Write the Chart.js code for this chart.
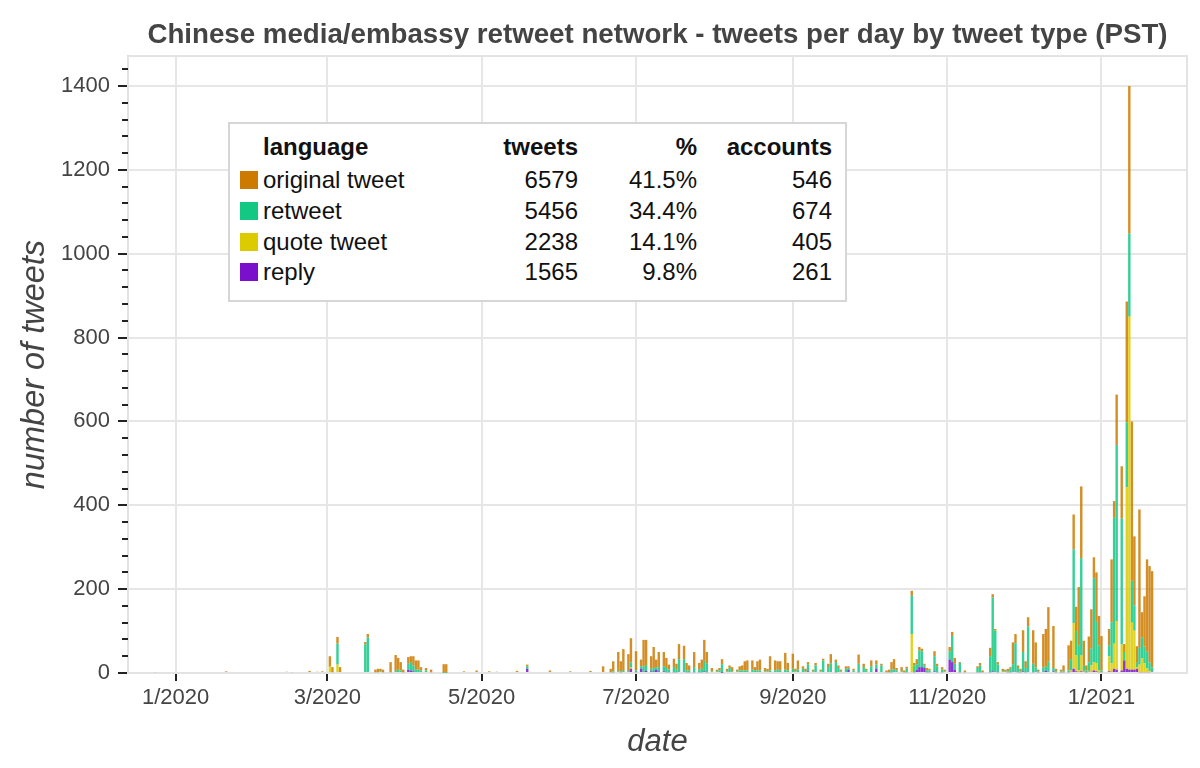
<!DOCTYPE html>
<html>
<head>
<meta charset="utf-8">
<script src="https://cdn.jsdelivr.net/npm/chart.js@4.4.1/dist/chart.umd.min.js"></script>
<style>
    body { margin: 0; background: #fff; }
    #wrap { position: relative; width: 1200px; height: 768px; font-family: "Liberation Sans", Arial, sans-serif; }
    #legend { position: absolute; left: 228px; top: 122px; width: 615px; height: 176px; border: 2px solid #d6d6d6; background: #fff; color: #111; font-size: 24px; }
    #legend div { position: absolute; line-height: 30px; white-space: nowrap; }
    #legend .sw { width: 18px; height: 18px; }
</style>
</head>
<body>
<div id="wrap">
    <canvas id="chart_tweets" width="1200" height="768"></canvas>
    <div id="legend"></div>
</div>
<script>
// dias contados desde 2020-01-01 (dia 0)
const days = [
    -8, 20, 44, 46, 53, 56, 58, 61, 62, 64,
    65, 75, 76, 79, 80, 81, 82, 85, 87, 88,
    89, 90, 92, 93, 94, 95, 96, 97, 99, 101,
    106, 107, 114, 119, 124, 127, 135, 139, 148, 156,
    164, 169, 172, 173, 175, 176, 177, 179, 180, 182,
    184, 185, 186, 188, 189, 190, 191, 193, 194, 195,
    197, 198, 199, 201, 202, 203, 205, 207, 208, 209,
    210, 212, 214, 215, 216, 218, 219, 220, 222, 223,
    224, 225, 226, 228, 229, 230, 231, 233, 234, 235,
    237, 238, 239, 241, 242, 244, 245, 246, 248, 249,
    250, 252, 253, 255, 256, 258, 259, 261, 262, 263,
    265, 266, 268, 270, 272, 273, 275, 277, 279, 281,
    282, 283, 284, 285, 287, 288, 289, 291, 292, 293,
    294, 295, 296, 297, 298, 300, 301, 303, 304, 306,
    307, 308, 310, 312, 317, 318, 319, 322, 323, 324,
    325, 327, 328, 329, 330, 331, 332, 333, 334, 335,
    336, 337, 339, 340, 341, 343, 344, 345, 347, 348,
    350, 351, 353, 354, 355, 356, 357, 358, 359, 360,
    361, 362, 363, 364, 365, 366, 369, 370, 371, 372,
    374, 375, 376, 377, 378, 379, 380, 381, 382, 383,
    384, 385, 386
]
const original = [
    2, 4, 3, 2, 5, 3, 4, 25, 12, 16,
    14, 6, 8, 6, 8, 6, 6, 24, 38, 28,
    20, 6, 16, 14, 22, 22, 22, 8, 6, 6,
    20, 20, 4, 6, 4, 3, 5, 4, 6, 4,
    5, 16, 8, 24, 46, 24, 52, 40, 58, 46,
    16, 64, 60, 30, 50, 18, 36, 34, 24, 12,
    20, 14, 36, 32, 18, 12, 36, 16, 22, 50,
    28, 8, 4, 6, 12, 6, 6, 10, 4, 10,
    12, 22, 24, 22, 8, 22, 26, 8, 6, 34,
    24, 20, 22, 40, 18, 36, 6, 22, 6, 6,
    6, 4, 6, 4, 4, 8, 22, 6, 6, 4,
    6, 4, 4, 22, 8, 4, 14, 10, 4, 4,
    6, 18, 24, 6, 10, 4, 5, 12, 6, 12,
    8, 6, 4, 6, 4, 12, 6, 6, 4, 10,
    10, 14, 2, 4, 4, 6, 4, 20, 8, 4,
    6, 6, 4, 6, 4, 52, 22, 6, 6, 52,
    16, 22, 80, 60, 4, 80, 90, 130, 100, 6,
    4, 14, 60, 44, 83, 58, 140, 171, 60, 12,
    62, 94, 50, 118, 70, 82, 40, 150, 40, 120,
    125, 19, 288, 352, 380, 165, 40, 330, 60, 120,
    220, 230, 230
]
const retweet = [
    0, 0, 0, 0, 0, 0, 0, 0, 0, 50,
    0, 68, 85, 2, 2, 4, 2, 2, 5, 8,
    6, 2, 14, 20, 14, 8, 8, 6, 6, 2,
    1, 1, 0, 0, 0, 0, 0, 6, 0, 0,
    0, 0, 2, 2, 4, 2, 5, 5, 12, 4,
    6, 12, 14, 6, 8, 6, 10, 12, 10, 6,
    12, 6, 30, 30, 4, 4, 12, 6, 8, 25,
    20, 4, 4, 6, 20, 4, 12, 4, 4, 6,
    6, 6, 6, 8, 6, 6, 6, 4, 4, 6,
    6, 8, 6, 8, 6, 10, 4, 8, 10, 4,
    16, 4, 18, 4, 30, 14, 20, 24, 12, 4,
    10, 4, 6, 20, 14, 6, 16, 10, 18, 2,
    2, 6, 6, 6, 4, 2, 8, 91, 16, 14,
    40, 38, 6, 4, 4, 36, 14, 6, 4, 20,
    62, 14, 22, 2, 10, 16, 2, 38, 176, 98,
    18, 4, 4, 2, 8, 18, 68, 10, 2, 46,
    10, 108, 20, 10, 2, 10, 10, 24, 8, 2,
    2, 2, 4, 26, 176, 58, 58, 232, 12, 4,
    20, 40, 200, 98, 60, 4, 25, 98, 300, 420,
    300, 20, 155, 198, 100, 60, 10, 40, 50, 40,
    40, 20, 10
]
const quote = [
    0, 0, 0, 0, 0, 0, 0, 15, 2, 20,
    0, 0, 0, 0, 0, 0, 0, 0, 0, 0,
    0, 0, 0, 0, 0, 0, 0, 0, 0, 0,
    0, 0, 0, 0, 0, 0, 0, 0, 0, 0,
    0, 0, 0, 0, 0, 0, 0, 0, 3, 0,
    0, 0, 0, 0, 0, 0, 0, 0, 0, 0,
    0, 0, 0, 0, 0, 0, 0, 0, 0, 0,
    0, 0, 0, 0, 0, 0, 0, 0, 0, 0,
    0, 0, 0, 0, 0, 0, 0, 0, 0, 0,
    0, 0, 0, 0, 0, 0, 0, 0, 0, 0,
    0, 0, 0, 0, 0, 0, 0, 0, 0, 0,
    0, 0, 0, 0, 0, 0, 0, 0, 0, 0,
    0, 0, 0, 0, 0, 0, 0, 93, 0, 0,
    0, 0, 0, 0, 0, 0, 0, 0, 0, 0,
    0, 0, 0, 0, 0, 0, 0, 0, 0, 0,
    0, 0, 0, 0, 0, 0, 0, 0, 0, 0,
    0, 0, 0, 0, 0, 0, 0, 0, 0, 0,
    0, 0, 0, 4, 109, 38, 4, 38, 2, 0,
    2, 15, 20, 20, 4, 0, 36, 20, 60, 116,
    62, 0, 433, 842, 112, 93, 4, 18, 33, 21,
    9, 3, 0
]
const reply = [
    0, 0, 0, 0, 0, 0, 0, 0, 0, 0,
    0, 0, 0, 0, 0, 0, 0, 0, 0, 0,
    0, 0, 8, 6, 4, 0, 0, 0, 0, 0,
    0, 0, 0, 0, 0, 0, 0, 10, 0, 0,
    0, 0, 0, 2, 0, 2, 0, 0, 10, 2,
    10, 3, 5, 4, 4, 8, 4, 4, 2, 2,
    2, 2, 3, 3, 2, 2, 2, 2, 2, 4,
    2, 0, 0, 0, 1, 0, 0, 0, 0, 0,
    0, 0, 0, 0, 0, 0, 0, 0, 0, 0,
    0, 0, 0, 0, 0, 0, 0, 0, 0, 0,
    4, 0, 0, 0, 0, 0, 3, 2, 0, 0,
    0, 8, 0, 2, 0, 0, 0, 10, 0, 0,
    0, 2, 3, 0, 0, 0, 2, 0, 2, 7,
    14, 14, 12, 2, 2, 4, 2, 2, 0, 32,
    26, 8, 2, 0, 2, 2, 0, 2, 4, 3,
    2, 0, 0, 2, 2, 3, 3, 2, 2, 4,
    2, 3, 2, 3, 2, 3, 5, 3, 4, 2,
    2, 2, 2, 3, 10, 4, 3, 4, 3, 2,
    3, 3, 6, 4, 2, 2, 4, 3, 10, 8,
    6, 30, 10, 8, 8, 8, 10, 2, 2, 2,
    2, 2, 3
]

// tabla de la leyenda
const tipos = ['original tweet', 'retweet', 'quote tweet', 'reply']
const colores = ['#cc7a00', '#12c882', '#dccb00', '#7a0fcc']
const total_tweets = [6579, 5456, 2238, 1565]
const porcentajes = ['41.5%', '34.4%', '14.1%', '9.8%']
const cuentas = [546, 674, 405, 261]

// ticks del eje x (1 de cada mes par)
const tick_days = [0, 60, 121, 182, 244, 305, 366]
const tick_labels = ['1/2020', '3/2020', '5/2020', '7/2020', '9/2020', '11/2020', '1/2021']

function serie(label, values, color) {
    return {
        label: label,
        data: days.map((d, i) => ({ x: d, y: values[i] })),
        backgroundColor: color + 'd9',
        borderWidth: 0,
        categoryPercentage: 1,
        barPercentage: 0.96,
    }
}

// ticks menores del eje y
const ticks_menores = {
    id: 'ticks_menores',
    afterDraw(chart) {
        const { ctx, chartArea, scales } = chart
        ctx.save()
        ctx.strokeStyle = '#222'
        ctx.lineWidth = 2
        scales.y.ticks.forEach(t => {
            if (t.value % 200 === 0) return
            const py = Math.round(scales.y.getPixelForValue(t.value))
            ctx.beginPath()
            ctx.moveTo(chartArea.left - 6, py)
            ctx.lineTo(chartArea.left, py)
            ctx.stroke()
        })
        ctx.restore()
    }
}

// borde gris del area del grafico
const borde_area = {
    id: 'borde_area',
    beforeDatasetsDraw(chart) {
        const { ctx, chartArea } = chart
        ctx.save()
        ctx.strokeStyle = '#e3e3e3'
        ctx.lineWidth = 2
        ctx.strokeRect(chartArea.left, chartArea.top, chartArea.right - chartArea.left, chartArea.bottom - chartArea.top)
        ctx.restore()
    }
}

Chart.defaults.font.family = '"Liberation Sans", Arial, sans-serif'

const chart = document.querySelector('#chart_tweets')
const tweets_chart = new Chart(chart, {
    type: 'bar',
    data: {
        datasets: [
            serie(tipos[3], reply, colores[3]),
            serie(tipos[2], quote, colores[2]),
            serie(tipos[1], retweet, colores[1]),
            serie(tipos[0], original, colores[0]),
        ],
    },
    options: {
        responsive: false,
        animation: false,
        layout: { padding: { left: 0, right: 13, top: 0, bottom: 0 } },
        plugins: {
            legend: { display: false },
            tooltip: { enabled: false },
            title: {
                display: true,
                fullSize: false,
                text: 'Chinese media/embassy retweet network - tweets per day by tweet type (PST)',
                color: '#444',
                font: { size: 27.7, weight: 'bold' },
                padding: { top: 18.5, bottom: 4.3 },
            },
        },
        scales: {
            x: {
                type: 'linear',
                stacked: true,
                offset: false,
                min: -18.8,
                max: 399.8,
                afterFit: s => { s.height = 95 },
                afterBuildTicks: s => { s.ticks = tick_days.map(v => ({ value: v })) },
                ticks: {
                    autoSkip: false,
                    maxRotation: 0,
                    color: '#444',
                    font: { size: 22 },
                    padding: 4,
                    callback: v => tick_labels[tick_days.indexOf(v)],
                },
                grid: { offset: false, color: '#e6e6e6', lineWidth: 2, tickLength: 8, tickColor: '#222', tickWidth: 2 },
                border: { color: '#111', width: 2 },
                title: {
                    display: true,
                    text: 'date',
                    color: '#444',
                    font: { size: 31, style: 'italic' },
                    padding: { top: 0, bottom: 7 },
                },
            },
            y: {
                stacked: true,
                min: 0,
                max: 1471.5,
                afterFit: s => { s.width = 128 },
                afterBuildTicks: s => {
                    let t = []
                    for (let v = 0; v <= 1440; v += 40) t.push({ value: v })
                    s.ticks = t
                },
                ticks: {
                    autoSkip: false,
                    color: '#444',
                    font: { size: 22 },
                    padding: 8,
                    callback: v => (v % 200 === 0 ? String(v) : ''),
                },
                grid: {
                    color: c => (c.tick && c.tick.value % 200 === 0 ? '#e6e6e6' : 'rgba(0,0,0,0)'),
                    lineWidth: 2,
                    tickLength: 10,
                    tickWidth: 2,
                    tickColor: c => (c.tick && c.tick.value % 200 === 0 ? '#222' : 'rgba(0,0,0,0)'),
                },
                border: { color: '#111', width: 2 },
                title: {
                    display: true,
                    text: 'number of tweets',
                    color: '#444',
                    font: { size: 32.5, style: 'italic' },
                    padding: { top: 15, bottom: 0 },
                },
            },
        },
    },
    plugins: [ticks_menores, borde_area],
})

// leyenda en forma de tabla
const legend = document.querySelector('#legend')
function celda(texto, left, width, center_y, align, bold) {
    let d = document.createElement('div')
    d.textContent = texto
    d.style.left = left + 'px'
    d.style.width = width + 'px'
    d.style.top = (center_y - 15) + 'px'
    d.style.textAlign = align
    if (bold) d.style.fontWeight = 'bold'
    legend.appendChild(d)
}
celda('language', 33, 200, 23, 'left', true)
celda('tweets', 200, 148, 23, 'right', true)
celda('%', 360, 107, 23, 'right', true)
celda('accounts', 460, 142, 23, 'right', true)
const filas_y = [56, 87, 118, 148]
tipos.forEach((tipo, i) => {
    let sw = document.createElement('div')
    sw.className = 'sw'
    sw.style.left = '10px'
    sw.style.top = (filas_y[i] - 9) + 'px'
    sw.style.background = colores[i]
    legend.appendChild(sw)
    celda(tipo, 33, 200, filas_y[i], 'left', false)
    celda(String(total_tweets[i]), 200, 148, filas_y[i], 'right', false)
    celda(porcentajes[i], 360, 107, filas_y[i], 'right', false)
    celda(String(cuentas[i]), 460, 142, filas_y[i], 'right', false)
})
</script>
</body>
</html>
